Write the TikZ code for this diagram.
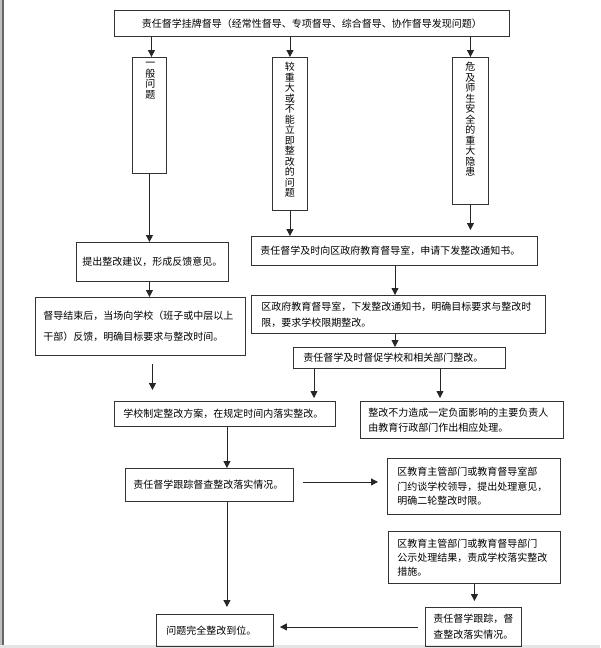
\documentclass[tikz,border=0pt]{standalone}
\usepackage{fontspec}
\setmainfont{Noto Sans CJK SC}
\usetikzlibrary{arrows.meta,calc}
\begin{document}
\begin{tikzpicture}[x=1pt,y=-1pt,
  box/.style={draw=black!80, line width=0.9pt, anchor=north west, inner xsep=9pt, inner ysep=0pt, align=left, font=\fontsize{10}{15}\selectfont},
  arr/.style={draw=black!85, line width=0.8pt, -{Triangle[length=7pt,width=7pt]}},
  vtxt/.style={align=center, font=\fontsize{10}{10.5}\selectfont, anchor=north, inner sep=0pt}]
\useasboundingbox (0,0) rectangle (600,648);
\fill[white] (0,0) rectangle (600,648);
\fill[black!25] (0,0) rectangle (2,648);
\fill[black!60] (2,0) rectangle (4,648);
\fill[black!10] (0,645) rectangle (600,648);

% boxes
\node[box, align=center, minimum width=395pt, minimum height=26pt, text width=377pt] (top) at (114,10) {责任督学挂牌督导（经常性督导、专项督导、综合督导、协作督导发现问题）};
\node[box, minimum width=34pt, minimum height=116pt] (b1) at (132,57) {};
\node[box, minimum width=35pt, minimum height=153pt] (b2) at (272,57) {};
\node[box, minimum width=36pt, minimum height=147pt] (b3) at (452,57) {};
\node[vtxt] (b1t) at ($(b1.north)+(1,5)$) {一\\般\\问\\题};
\node[vtxt] (b2t) at ($(b2.north)+(0,5)$) {较\\重\\大\\或\\不\\能\\立\\即\\整\\改\\的\\问\\题};
\node[vtxt] (b3t) at ($(b3.north)+(0,5)$) {危\\及\\师\\生\\安\\全\\的\\重\\大\\隐\\患};

\node[box, align=center, inner xsep=5pt, minimum width=152pt, minimum height=39pt, text width=142pt] (p1) at (76,242) {提出整改建议，形成反馈意见。\\[6pt]};
\node[box, minimum width=286pt, minimum height=29pt, text width=268pt] (s1) at (251,236) {责任督学及时向区政府教育督导室，申请下发整改通知书。};
\node[box, inner xsep=8pt, font=\fontsize{10}{21}\selectfont, minimum width=210pt, minimum height=58pt, text width=194pt] (d1) at (35,297) {督导结束后，当场向学校（班子或中层以上\\干部）反馈，明确目标要求与整改时间。};
\node[box, inner xsep=10pt, font=\fontsize{10}{16}\selectfont, minimum width=294pt, minimum height=38pt, text width=274pt] (q1) at (251,295) {区政府教育督导室，下发整改通知书，明确目标要求与整改时\\限，要求学校限期整改。};
\node[box, inner xsep=10pt, minimum width=212pt, minimum height=21pt, text width=192pt] (c1) at (293,347) {责任督学及时督促学校和相关部门整改。};
\node[box, minimum width=221pt, minimum height=25pt, text width=203pt] (x1) at (114,401) {学校制定整改方案，在规定时间内落实整改。};
\node[box, inner xsep=8pt, minimum width=203pt, minimum height=37pt, text width=187pt] (z1) at (360,401) {整改不力造成一定负面影响的主要负责人\\由教育行政部门作出相应处理。};
\node[box, inner xsep=8pt, minimum width=168pt, minimum height=33pt, text width=152pt] (t1) at (125,468) {责任督学跟踪督查整改落实情况。\\[3pt]};
\node[box, inner xsep=10pt, font=\fontsize{10}{14.5}\selectfont, minimum width=173pt, minimum height=56pt, text width=153pt] (y1) at (387,458) {区教育主管部门或教育督导室部\\门约谈学校领导，提出处理意见，\\明确二轮整改时限。};
\node[box, inner xsep=9pt, font=\fontsize{10}{14}\selectfont, minimum width=172pt, minimum height=52pt, text width=154pt] (g1) at (388,531) {区教育主管部门或教育督导部门\\公示处理结果，责成学校落实整改\\措施。};
\node[box, inner xsep=10pt, minimum width=117pt, minimum height=32pt, text width=97pt] (w1) at (156,614) {问题完全整改到位。};
\node[box, inner xsep=8pt, font=\fontsize{10}{16}\selectfont, minimum width=96pt, minimum height=39pt, text width=80pt] (k1) at (425,607) {责任督学跟踪，督\\查整改落实情况。};

% helper coordinates
\coordinate (cs) at ($(s1.south west)+(144,0)$);
\coordinate (cc1) at ($(c1.south west)+(21,0)$);
\coordinate (cc2) at ($(c1.south west)+(147,0)$);
\coordinate (cx) at ($(x1.south)+(2,0)$);
\coordinate (ct) at ($(t1.east)+(0,-3)$);
\coordinate (cb1) at ($(b1.north)+(2,0)$);

% connectors
\draw[arr] (top.south -| cb1) -- (cb1);
\draw[arr] (top.south -| b2.north) -- (b2.north);
\draw[arr] (top.south -| b3.north) -- (b3.north);
\draw[arr] (b1.south) -- (b1.south |- p1.north);
\draw[arr] (b2.south) -- (b2.south |- s1.north);
\draw[arr, shorten >=6pt] (b3.south) -- (b3.south |- s1.north);
\draw[arr] (p1.south -| b1.south) -- (b1.south |- d1.north);
\draw[arr] (cs) -- (cs |- q1.north);
\draw[arr] (cs |- q1.south) -- (cs |- c1.north);
\draw[arr, shorten <=8pt, shorten >=11pt] (p1.south |- d1.south) -- (p1.south |- x1.north);
\draw[arr, shorten >=3pt] (cc1) -- (cc1 |- x1.north);
\draw[arr, shorten >=3pt] (cc2) -- (cc2 |- z1.north);
\draw[arr] (cx) -- (cx |- t1.north);
\draw[arr, shorten <=9pt, shorten >=9pt] (ct) -- (ct -| y1.west);
\draw[arr, shorten >=7pt] (cx |- t1.south) -- (cx |- w1.north);
\draw[arr, shorten >=6pt] (g1.south) -- (g1.south |- k1.north);
\draw[arr, shorten <=7pt, shorten >=6pt] (k1.west) -- (k1.west -| w1.east);
\end{tikzpicture}
\end{document}
